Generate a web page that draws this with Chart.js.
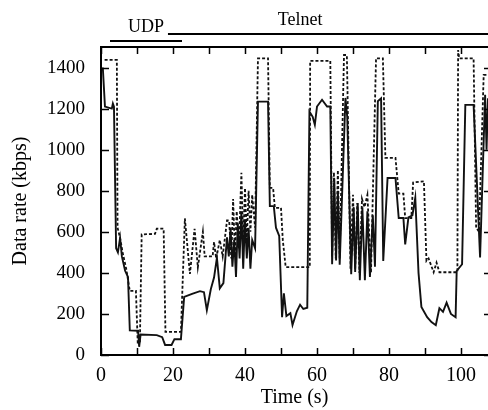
<!DOCTYPE html>
<html>
<head>
<meta charset="utf-8">
<script src="https://cdn.jsdelivr.net/npm/chart.js@4/dist/chart.umd.min.js"></script>
<style>
  body { margin: 0; background: #fff; }
  #wrap { width: 488px; height: 410px; }
</style>
</head>
<body>
<div id="wrap"><canvas id="rateChart"></canvas></div>
<script>
// ====== DATOS ======
const solidTime = [0.5, 1.1, 3, 3.3, 3.6, 4.2, 4.7, 5.3, 5.8, 6.7, 7.5, 8, 10.3, 10.6, 11, 15.5, 17, 17.8, 19.6, 20.4, 22.2, 23.1, 25.3, 27.5, 28.6, 29.4, 30.5, 31.4, 32.2, 33, 34, 35, 35.5, 36, 36.5, 37, 37.5, 38, 38.5, 39, 39.5, 40, 40.5, 41, 41.5, 42, 42.8, 43.6, 46.4, 46.9, 48, 48.6, 49.5, 50.3, 50.8, 51.5, 52.6, 53.2, 54.4, 55.3, 56.2, 57.3, 57.9, 58.8, 59.4, 60, 61.4, 62.8, 63.7, 64.2, 64.8, 65.3, 65.8, 66.3, 67.9, 68.4, 69.5, 70.2, 70.6, 71.3, 71.9, 72.6, 73.3, 74, 74.7, 75.5, 76.1, 76.9, 77.8, 78.4, 79.6, 81.8, 82.7, 84, 84.5, 85.4, 86.5, 87.3, 88.2, 89, 90.6, 91.8, 93, 94, 95, 96, 97.2, 98.5, 98.8, 100.3, 101.2, 103.5, 105.3, 106.7, 107.1, 107.5];
const solidRate = [1400, 1210, 1200, 1225, 1210, 520, 500, 570, 480, 410, 380, 120, 118, 40, 100, 97, 87, 49, 49, 77, 77, 283, 298, 311, 306, 218, 320, 377, 474, 325, 350, 573, 480, 620, 430, 560, 380, 640, 470, 700, 420, 660, 470, 620, 420, 560, 520, 1234, 1234, 725, 725, 620, 580, 184, 300, 190, 204, 146, 213, 245, 224, 230, 1186, 1160, 1121, 1210, 1243, 1210, 1210, 442, 860, 460, 800, 440, 1252, 1160, 393, 720, 404, 740, 364, 720, 364, 700, 380, 680, 430, 1236, 1250, 458, 862, 862, 667, 667, 539, 670, 680, 766, 400, 234, 184, 160, 145, 228, 210, 255, 200, 184, 409, 442, 1218, 1218, 475, 1267, 1000, 1250];

const dashTime = [1, 4.4, 4.6, 5.3, 6, 7, 8, 9.7, 10.2, 10.8, 11.3, 15, 15.5, 17.4, 17.9, 22.2, 23.3, 24.7, 26, 26.9, 28.3, 28.8, 31, 31.4, 32, 33, 33.8, 35, 35.6, 36.2, 36.7, 37.2, 37.7, 38.3, 39, 39.5, 40, 40.5, 41, 41.5, 42, 42.8, 43.6, 46.4, 46.9, 47.8, 48.3, 50, 50.5, 51.3, 58, 58.1, 63.7, 64.2, 64.7, 65.2, 65.8, 66.3, 67.5, 68.3, 69.3, 70, 70.6, 71.2, 71.8, 72.5, 73.2, 74, 75, 76.4, 78.3, 79, 81.8, 82.7, 84, 84.5, 86.2, 86.7, 89.7, 90.4, 91, 92.4, 93.2, 94, 99, 99.2, 99.5, 103.5, 104.2, 105, 106.3, 107.5];
const dashRate = [1437, 1437, 620, 570, 500, 420, 312, 312, 60, 60, 587, 590, 615, 615, 113, 113, 665, 395, 615, 427, 600, 480, 480, 550, 470, 560, 480, 655, 655, 470, 760, 480, 700, 520, 888, 540, 813, 560, 800, 600, 780, 620, 1445, 1445, 814, 814, 717, 717, 560, 428, 428, 1432, 1432, 480, 890, 470, 900, 470, 1461, 1461, 420, 780, 420, 740, 400, 760, 720, 780, 400, 1445, 1445, 960, 960, 786, 786, 667, 667, 840, 846, 458, 470, 403, 450, 403, 403, 1485, 1445, 1445, 620, 600, 1364, 1364];

const xTicks = [0, 20, 40, 60, 80, 100];
const xMinorTicks = [0, 10, 20, 30, 40, 50, 60, 70, 80, 90, 100];
const yTicks = [0, 200, 400, 600, 800, 1000, 1200, 1400];

// tramos de tráfico arriba del gráfico
const phaseNames = ["UDP", "Telnet"];
const phaseStart = [2.5, 18.6];
const phaseEnd = [22.5, 112];

const FONT = "'Liberation Serif', 'Times New Roman', serif";

function toPoints(xs, ys) {
  return xs.map((x, i) => ({ x: x, y: ys[i] }));
}

// ====== MARCO, TICKS HACIA DENTRO Y FASES ======
const framePlugin = {
  id: "frame",
  afterDraw(chart) {
    const c = chart.ctx;
    const a = chart.chartArea;
    const xs = chart.scales.x;
    const ys = chart.scales.y;
    c.save();
    c.strokeStyle = "#000";
    c.lineWidth = 2;
    c.beginPath();
    c.moveTo(a.right + 2, a.top);
    c.lineTo(a.left, a.top);
    c.lineTo(a.left, a.bottom);
    c.lineTo(a.right + 2, a.bottom);
    c.stroke();

    c.lineWidth = 1.5;
    c.beginPath();
    xMinorTicks.forEach(v => {
      const px = Math.round(xs.getPixelForValue(v)) + 0.5;
      c.moveTo(px, a.bottom); c.lineTo(px, a.bottom - 7);
      c.moveTo(px, a.top); c.lineTo(px, a.top + 7);
    });
    yTicks.forEach(v => {
      const py = Math.round(ys.getPixelForValue(v)) + 0.5;
      c.moveTo(a.left, py); c.lineTo(a.left + 8, py);
      c.moveTo(a.right, py); c.lineTo(a.right - 4, py);
    });
    c.stroke();

    // UDP / Telnet
    c.lineWidth = 2;
    c.fillStyle = "#000";
    c.font = "18px " + FONT;
    c.textAlign = "center";
    c.textBaseline = "alphabetic";
    phaseNames.forEach((name, i) => {
      const x1 = xs.getPixelForValue(phaseStart[i]);
      const x2 = xs.getPixelForValue(phaseEnd[i]);
      const ly = i === 0 ? 41 : 34;
      c.beginPath();
      c.moveTo(x1, ly); c.lineTo(x2, ly);
      c.stroke();
      const tx = i === 0 ? (x1 + x2) / 2 : xs.getPixelForValue(55.3);
      c.fillText(name, tx, ly - 9);
    });
    c.restore();
  }
};

// ====== GRÁFICO ======
const ctx = document.getElementById("rateChart").getContext("2d");

const rateChart = new Chart(ctx, {
  type: "line",
  data: {
    datasets: [
      {
        label: "solid",
        data: toPoints(solidTime, solidRate),
        borderColor: "#111",
        borderWidth: 1.9,
        pointRadius: 0,
        tension: 0,
        fill: false
      },
      {
        label: "dashed",
        data: toPoints(dashTime, dashRate),
        borderColor: "#111",
        borderWidth: 1.8,
        borderDash: [3, 2],
        pointRadius: 0,
        tension: 0,
        fill: false
      }
    ]
  },
  options: {
    responsive: true,
    maintainAspectRatio: false,
    animation: false,
    layout: { padding: { top: 47, right: 0, left: 0, bottom: 0 } },
    plugins: {
      legend: { display: false },
      tooltip: { enabled: false }
    },
    scales: {
      x: {
        type: "linear",
        min: 0,
        max: 107.5,
        afterBuildTicks: s => { s.ticks = xTicks.map(v => ({ value: v })); },
        afterFit: s => { s.height = 55; },
        grid: { display: false },
        border: { display: false },
        ticks: { color: "#000", padding: 1, maxRotation: 0, callback: v => String(v), font: { family: FONT, size: 20 } },
        title: {
          display: true,
          text: "Time (s)",
          color: "#000",
          padding: { top: 0, bottom: 0 },
          font: { family: FONT, size: 20 }
        }
      },
      y: {
        min: 0,
        max: 1500,
        afterBuildTicks: s => { s.ticks = yTicks.map(v => ({ value: v })); },
        afterFit: s => { s.width = 101; },
        grid: { display: false },
        border: { display: false },
        ticks: { color: "#000", padding: 8, callback: v => String(v), font: { family: FONT, size: 19 } },
        title: {
          display: true,
          text: "Data rate (kbps)",
          color: "#000",
          padding: { top: 9, bottom: 0 },
          font: { family: FONT, size: 20 }
        }
      }
    }
  },
  plugins: [framePlugin]
});
</script>
</body>
</html>
